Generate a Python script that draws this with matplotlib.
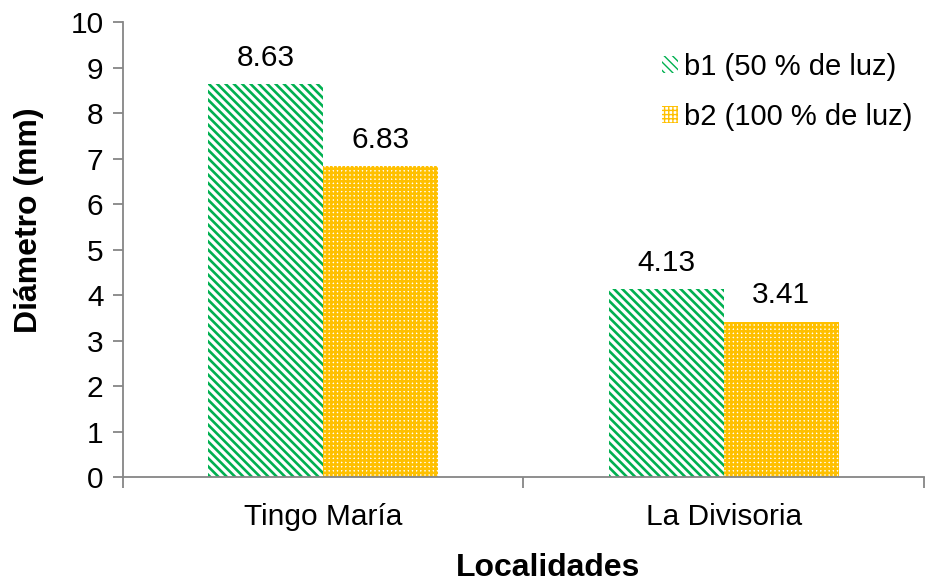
import matplotlib
matplotlib.use("Agg")
import matplotlib.pyplot as plt
import numpy as np
from matplotlib.patches import Patch

localidades = ["Tingo María", "La Divisoria"]
b1_values = [8.63, 4.13]
b2_values = [6.83, 3.41]
series_names = ["b1 (50 % de luz)", "b2 (100 % de luz)"]
y_ticks = [0, 1, 2, 3, 4, 5, 6, 7, 8, 9, 10]

green = "#00B050"
orange = "#FFC000"
axis_gray = "#868686"

plt.rcParams["font.family"] = ["Liberation Sans", "DejaVu Sans"]

fig = plt.figure(figsize=(9.26, 5.84), dpi=100)
ax = fig.add_axes([0.1328, 0.1832, 0.865, 0.7791])

x = np.arange(len(localidades))
w = 0.2875
green_hatch = "\\\\\\\\"
orange_hatch = "++++"
green_lw = 1.9
orange_lw = 1.9

with plt.rc_context({"hatch.linewidth": green_lw}):
    bars1 = ax.bar(x - w / 2, b1_values, w, facecolor="white", edgecolor=green,
                   linewidth=0, hatch=green_hatch)
    h1 = Patch(facecolor="white", edgecolor=green, linewidth=0, hatch=green_hatch)
with plt.rc_context({"hatch.linewidth": orange_lw}):
    bars2 = ax.bar(x + w / 2, b2_values, w, facecolor="white", edgecolor=orange,
                   linewidth=0, hatch=orange_hatch)
    h2 = Patch(facecolor="white", edgecolor=orange, linewidth=0, hatch=orange_hatch)

for bars, vals in ((bars1, b1_values), (bars2, b2_values)):
    for b, v in zip(bars, vals):
        ax.annotate(f"{v:.2f}", (b.get_x() + b.get_width() / 2, v),
                    xytext=(0, 9), textcoords="offset points",
                    ha="center", va="bottom", fontsize=21.5)

ax.set_xlim(-0.5, 1.5)
ax.set_ylim(0, 10)
ax.set_yticks(y_ticks)
ax.set_yticklabels([str(t) for t in y_ticks], fontsize=21.5)

ax.set_xticks([-0.5, 0.5, 1.5])
ax.set_xticklabels([])
ax.set_xticks(x, minor=True)
ax.set_xticklabels(localidades, minor=True, fontsize=21.5)
ax.tick_params(axis="x", which="minor", length=0, pad=19)
ax.tick_params(axis="x", which="major", length=8, width=1.3, color=axis_gray, direction="out")
ax.tick_params(axis="y", length=7, width=1.3, color=axis_gray, direction="out", pad=7)

for s in ("top", "right"):
    ax.spines[s].set_visible(False)
for s in ("left", "bottom"):
    ax.spines[s].set_color(axis_gray)
    ax.spines[s].set_linewidth(1.3)

ax.set_ylabel("Diámetro (mm)", fontsize=23, fontweight="bold")
ax.yaxis.set_label_coords(-0.099, 0.565)
ax.set_xlabel("Localidades", fontsize=23, fontweight="bold")
ax.xaxis.set_label_coords(0.531, -0.167)

ax.legend([h1, h2], series_names, loc="upper right", bbox_to_anchor=(1.018, 0.99),
          frameon=False, fontsize=21, handlelength=0.55, handleheight=0.55,
          handletextpad=0.2, labelspacing=0.75)

fig.savefig("out.png", dpi=100)
